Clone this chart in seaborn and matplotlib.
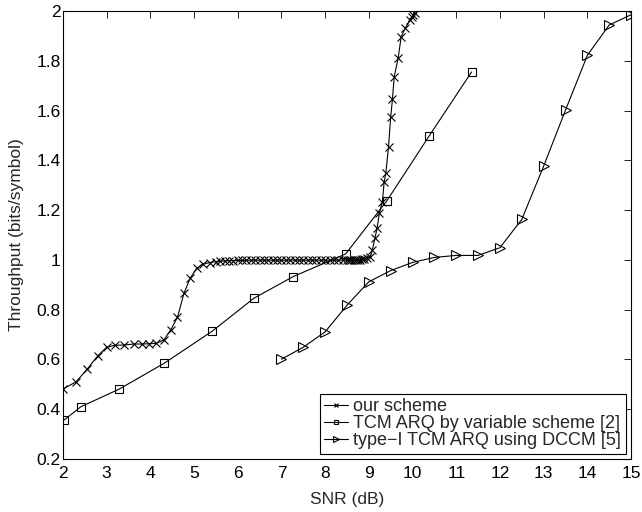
import numpy as np
import pandas as pd
import matplotlib
matplotlib.use("Agg")
import matplotlib.pyplot as plt
import seaborn as sns

# --- data ---
ours_x = [2.0, 2.3, 2.55, 2.8, 3.0, 3.19, 3.4, 3.62, 3.8, 3.97, 4.14, 4.31, 4.47, 4.62, 4.77, 4.91,
          5.06, 5.21, 5.36, 5.5, 5.6, 5.7, 5.8, 5.9, 6.0, 6.1, 6.2, 6.3, 6.4, 6.5, 6.6, 6.7, 6.8,
          6.9, 7.0, 7.1, 7.2, 7.3, 7.4, 7.5, 7.6, 7.7, 7.8, 7.9, 8.0, 8.1, 8.2, 8.3, 8.4, 8.5,
          8.55, 8.6, 8.65, 8.7, 8.75, 8.8, 8.85, 8.9, 8.95, 9.03, 9.08, 9.14, 9.19, 9.24, 9.31,
          9.35, 9.39, 9.45, 9.5, 9.54, 9.58, 9.67, 9.74, 9.83, 9.94, 9.98, 10.02, 10.06]
ours_y = [0.481, 0.51, 0.56, 0.615, 0.649, 0.657, 0.658, 0.662, 0.662, 0.663, 0.665, 0.678, 0.72,
          0.769, 0.866, 0.926, 0.966, 0.984, 0.989, 0.993, 0.995, 0.996, 0.997, 0.997, 0.998,
          0.998, 0.998, 0.999, 0.999, 0.999, 0.999, 0.999, 0.999, 0.999, 0.999, 0.999, 0.999,
          0.999, 0.999, 0.999, 0.999, 0.999, 0.999, 0.999, 0.999, 0.999, 0.999, 0.999, 0.999,
          0.999, 0.999, 0.999, 0.999, 1.0, 1.0, 1.001, 1.003, 1.005, 1.008, 1.013, 1.04, 1.087,
          1.13, 1.187, 1.234, 1.314, 1.35, 1.455, 1.575, 1.645, 1.736, 1.81, 1.897, 1.93, 1.964,
          1.975, 1.985, 1.992]

var_x = [2.03, 2.41, 3.29, 4.32, 5.42, 6.37, 7.27, 8.47, 9.41, 10.38, 11.35]
var_y = [0.357, 0.41, 0.481, 0.585, 0.714, 0.846, 0.933, 1.024, 1.237, 1.498, 1.755]

dccm_x = [7.0, 7.5, 8.0, 8.5, 9.0, 9.5, 10.0, 10.5, 11.0, 11.5, 12.0, 12.5, 13.0, 13.5, 14.0, 14.5, 15.0]
dccm_y = [0.601, 0.649, 0.711, 0.818, 0.912, 0.957, 0.99, 1.01, 1.018, 1.018, 1.049, 1.163,
          1.377, 1.602, 1.822, 1.944, 1.985]

labels = ["our scheme", "TCM ARQ by variable scheme [2]", "type\u2212I TCM ARQ using DCCM [5]"]
xticks = list(range(2, 16))
yticks = [0.2, 0.4, 0.6, 0.8, 1.0, 1.2, 1.4, 1.6, 1.8, 2.0]
ytick_labels = ["0.2", "0.4", "0.6", "0.8", "1", "1.2", "1.4", "1.6", "1.8", "2"]

sns.set_style("white")
plt.rcParams['font.family'] = ['Liberation Sans', 'DejaVu Sans']
plt.rcParams['axes.unicode_minus'] = True

fig = plt.figure(figsize=(6.42, 5.12), dpi=100)
ax = fig.add_axes([0.098, 0.1035, 0.885, 0.875])

df1 = pd.DataFrame({"x": ours_x, "y": ours_y})
df2 = pd.DataFrame({"x": var_x, "y": var_y})
df3 = pd.DataFrame({"x": dccm_x, "y": dccm_y})

common = dict(ax=ax, color="black", lw=0.8, sort=False, markeredgecolor="black",
              markeredgewidth=0.8)
sns.lineplot(data=df1, x="x", y="y", marker="x", markersize=5.5, label=labels[0], **common)
sns.lineplot(data=df2, x="x", y="y", marker="s", markersize=5.5, markerfacecolor="none",
             label=labels[1], **common)
sns.lineplot(data=df3, x="x", y="y", marker=">", markersize=7, markerfacecolor="none",
             label=labels[2], **common)

ax.set_xlim(2, 15)
ax.set_ylim(0.2, 2)
ax.set_xticks(xticks)
ax.set_yticks(yticks)
ax.set_yticklabels(ytick_labels)
ax.tick_params(direction="in", top=True, right=True, length=5, width=0.6,
               labelsize=12.5, colors="black")
ax.tick_params(axis="x", pad=5)
ax.tick_params(axis="y", pad=1.5)
for s in ax.spines.values():
    s.set_color("black")
    s.set_linewidth(0.8)
ax.set_xlabel("SNR (dB)", fontsize=12.5, labelpad=8)
ax.set_ylabel("Throughput (bits/symbol)", fontsize=12.5, labelpad=9)

leg = ax.legend(loc="lower right", fontsize=13, frameon=True, fancybox=False,
                edgecolor="black", framealpha=1, handlelength=1.3, handletextpad=0.3,
                borderpad=0.25, labelspacing=0.0, borderaxespad=0.3, markerscale=0.6)
leg.get_frame().set_linewidth(0.8)

fig.savefig("out.png", dpi=100)
